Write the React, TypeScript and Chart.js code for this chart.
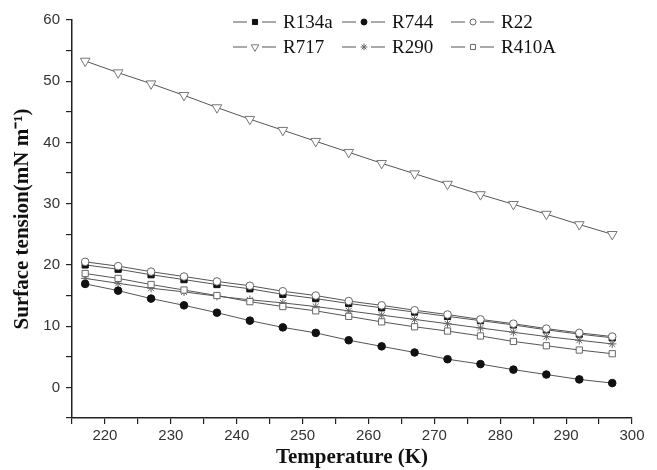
import React, { useEffect, useRef } from 'react';
import { Chart, registerables } from 'chart.js';

Chart.register(...registerables);

// Temperature (K)
const temperatures = [217, 222, 227, 232, 237, 242, 247, 252, 257, 262, 267, 272, 277, 282, 287, 292, 297];

// Surface tension (mN m-1)
const r134a = [20.0, 19.3, 18.4, 17.6, 16.8, 16.1, 15.2, 14.5, 13.7, 13.0, 12.3, 11.6, 10.9, 10.2, 9.4, 8.7, 8.1];
const r744 = [16.9, 15.8, 14.5, 13.4, 12.2, 10.9, 9.8, 8.9, 7.7, 6.7, 5.7, 4.6, 3.8, 2.9, 2.1, 1.3, 0.7];
const r22 = [20.5, 19.8, 18.9, 18.1, 17.3, 16.6, 15.7, 15.0, 14.1, 13.4, 12.6, 11.9, 11.1, 10.4, 9.6, 8.9, 8.3];
const r717 = [53.3, 51.4, 49.6, 47.7, 45.7, 43.8, 42.0, 40.2, 38.4, 36.6, 34.9, 33.2, 31.5, 29.9, 28.3, 26.6, 25.0];
const r290 = [17.8, 17.0, 16.2, 15.6, 14.9, 14.3, 13.8, 13.2, 12.5, 11.8, 11.1, 10.4, 9.7, 9.0, 8.3, 7.7, 7.1];
const r410a = [18.6, 17.8, 16.8, 15.9, 15.0, 14.0, 13.2, 12.5, 11.6, 10.7, 9.9, 9.2, 8.4, 7.5, 6.8, 6.1, 5.5];

const xTickLabels = [220, 230, 240, 250, 260, 270, 280, 290, 300];
const yTickLabels = [0, 10, 20, 30, 40, 50, 60];

const xTitle = 'Temperature (K)';
const yTitle = 'Surface tension(mN m\u207B\u00B9)';

type Series = {
  label: string;
  data: number[];
  style: string;
  radius: number;
  rotation: number;
  fill: string;
  stroke: string;
  order: number;
  legendRadius: number;
};

const series: Series[] = [
  { label: 'R134a', data: r134a, style: 'rect', radius: 4.4, rotation: 0, fill: '#111', stroke: '#111', order: 4, legendRadius: 3.6 },
  { label: 'R744', data: r744, style: 'circle', radius: 3.8, rotation: 0, fill: '#111', stroke: '#111', order: 1, legendRadius: 3 },
  { label: 'R22', data: r22, style: 'circle', radius: 3.8, rotation: 0, fill: '#fff', stroke: '#666', order: 0, legendRadius: 3 },
  { label: 'R717', data: r717, style: 'triangle', radius: 5.6, rotation: 180, fill: '#fff', stroke: '#777', order: 5, legendRadius: 4.4 },
  { label: 'R290', data: r290, style: 'star', radius: 4.2, rotation: 0, fill: '#fff', stroke: '#666', order: 3, legendRadius: 3.4 },
  { label: 'R410A', data: r410a, style: 'rect', radius: 4.4, rotation: 0, fill: '#fff', stroke: '#666', order: 2, legendRadius: 3.6 },
];

function drawMarker(ctx: CanvasRenderingContext2D, s: Series, x: number, y: number, r: number) {
  ctx.save();
  ctx.fillStyle = s.fill;
  ctx.strokeStyle = s.stroke;
  ctx.lineWidth = 1;
  ctx.beginPath();
  if (s.style === 'circle') {
    ctx.arc(x, y, r, 0, Math.PI * 2);
    ctx.fill();
    ctx.stroke();
  } else if (s.style === 'rect') {
    const h = r * Math.SQRT1_2;
    ctx.rect(x - h, y - h, 2 * h, 2 * h);
    ctx.fill();
    ctx.stroke();
  } else if (s.style === 'triangle') {
    const w = r * Math.sin(Math.PI / 3);
    ctx.moveTo(x, y + r);
    ctx.lineTo(x - w, y - r / 2);
    ctx.lineTo(x + w, y - r / 2);
    ctx.closePath();
    ctx.fill();
    ctx.stroke();
  } else if (s.style === 'star') {
    for (let k = 0; k < 4; k++) {
      const a = (k * Math.PI) / 4;
      ctx.moveTo(x - Math.cos(a) * r, y - Math.sin(a) * r);
      ctx.lineTo(x + Math.cos(a) * r, y + Math.sin(a) * r);
    }
    ctx.stroke();
  }
  ctx.restore();
}

const legendPlugin = {
  id: 'customLegend',
  afterDraw(chart: any) {
    const ctx: CanvasRenderingContext2D = chart.ctx;
    ctx.save();
    series.forEach((s, i) => {
      const col = i % 3;
      const row = Math.floor(i / 3);
      const mx = 255 + col * 109;
      const y = 22 + row * 25;
      ctx.strokeStyle = '#555';
      ctx.lineWidth = 1;
      ctx.beginPath();
      ctx.moveTo(mx - 22, y);
      ctx.lineTo(mx - 8, y);
      ctx.moveTo(mx + 7, y);
      ctx.lineTo(mx + 21, y);
      ctx.stroke();
      drawMarker(ctx, s, mx, y, s.legendRadius);
      ctx.fillStyle = '#111';
      ctx.font = '19px "Liberation Serif", "Times New Roman", serif';
      ctx.textBaseline = 'middle';
      ctx.textAlign = 'left';
      ctx.fillText(s.label, mx + 28, y + 1);
    });
    ctx.restore();
  },
};

export default function App() {
  const canvasRef = useRef<HTMLCanvasElement | null>(null);

  useEffect(() => {
    const canvas = canvasRef.current;
    if (!canvas) return;
    const chart = new Chart(canvas, {
      type: 'line',
      data: {
        datasets: series.map((s) => ({
          label: s.label,
          data: temperatures.map((t, i) => ({ x: t, y: s.data[i] })),
          borderColor: '#555',
          borderWidth: 1,
          backgroundColor: s.fill,
          pointStyle: s.style as any,
          pointRadius: s.radius,
          pointRotation: s.rotation,
          pointBackgroundColor: s.fill,
          pointBorderColor: s.stroke,
          pointBorderWidth: 1,
          pointHoverRadius: s.radius,
          tension: 0,
          fill: false,
          order: s.order,
        })),
      },
      options: {
        animation: false,
        responsive: false,
        maintainAspectRatio: false,
        events: [],
        layout: { padding: { top: 20, right: 25, left: 0, bottom: 0 } },
        plugins: {
          legend: { display: false },
          tooltip: { enabled: false },
        },
        scales: {
          x: {
            type: 'linear',
            min: 215,
            max: 300,
            afterFit: (scale: any) => {
              scale.height = 52;
            },
            border: { display: true, color: '#222', width: 1.5 },
            grid: {
              display: true,
              drawOnChartArea: false,
              drawTicks: true,
              tickLength: 6,
              color: '#222',
              lineWidth: 1.2,
            },
            ticks: {
              stepSize: 5,
              autoSkip: false,
              maxRotation: 0,
              padding: 3,
              color: '#333',
              font: { family: '"Liberation Sans", Arial, sans-serif', size: 15 },
              callback: (v: any) => (xTickLabels.includes(Number(v)) ? String(v) : ''),
            },
            title: {
              display: true,
              text: xTitle,
              color: '#111',
              font: { family: '"Liberation Serif", "Times New Roman", serif', size: 21, weight: 'bold' },
              padding: { top: 0, bottom: 0 },
            },
          },
          y: {
            type: 'linear',
            min: -5,
            max: 60,
            afterFit: (scale: any) => {
              scale.width = 72;
            },
            border: { display: true, color: '#222', width: 1.5 },
            grid: {
              display: true,
              drawOnChartArea: false,
              drawTicks: true,
              tickLength: 6,
              color: '#222',
              lineWidth: 1.2,
            },
            ticks: {
              stepSize: 5,
              autoSkip: false,
              padding: 6,
              color: '#333',
              font: { family: '"Liberation Sans", Arial, sans-serif', size: 15 },
              callback: (v: any) => (yTickLabels.includes(Number(v)) ? String(v) : ''),
            },
            title: {
              display: true,
              text: yTitle,
              color: '#111',
              font: { family: '"Liberation Serif", "Times New Roman", serif', size: 21, weight: 'bold' },
              padding: { top: 10, bottom: 0 },
            },
          },
        },
      },
      plugins: [legendPlugin],
    });
    return () => chart.destroy();
  }, []);

  return (
    <div style={{ position: 'fixed', left: 0, top: 0, width: 657, height: 470, background: '#fff' }}>
      <canvas ref={canvasRef} width={657} height={470} style={{ display: 'block', width: 657, height: 470 }} />
    </div>
  );
}
